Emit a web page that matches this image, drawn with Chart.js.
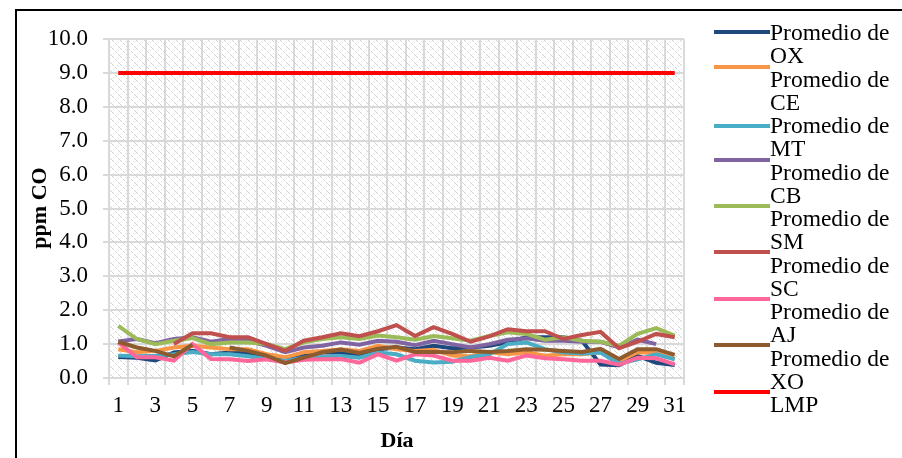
<!DOCTYPE html>
<html>
<head>
<meta charset="utf-8">
<script src="https://cdn.jsdelivr.net/npm/chart.js@4"></script>
<style>
  html, body { margin: 0; padding: 0; background: #fff; }
  #wrap { position: relative; width: 902px; height: 458px; }
</style>
</head>
<body>
<div id="wrap"><canvas id="coChart" width="902" height="458"></canvas></div>
<script>
// Days of the month
const days = ['1','2','3','4','5','6','7','8','9','10','11','12','13','14','15','16',
              '17','18','19','20','21','22','23','24','25','26','27','28','29','30','31'];

// Daily CO averages (ppm) per station
const promOX = [0.62,0.60,0.52,0.75,0.80,0.70,0.75,0.72,0.60,0.50,0.70,0.75,0.75,0.65,0.85,0.90,
                0.85,0.95,0.88,0.90,0.95,1.05,1.20,1.20,1.20,1.10,0.40,0.38,0.65,0.45,0.38];
const promCE = [0.85,0.76,0.80,0.90,0.95,0.90,0.85,0.85,0.70,0.61,0.76,0.80,0.85,0.80,0.95,0.85,
                0.80,0.83,0.66,0.64,0.76,0.70,0.76,0.66,0.70,0.70,0.76,0.51,0.76,0.74,0.56];
const promMT = [0.66,0.64,0.66,0.70,0.77,0.70,0.70,0.64,0.56,0.50,0.60,0.62,0.65,0.60,0.75,0.70,
                0.51,0.46,0.48,0.62,0.70,1.00,1.05,0.85,0.75,0.72,0.75,0.42,0.55,0.70,0.55];
const promCB = [1.08,1.15,1.03,1.15,1.20,1.07,1.15,1.10,0.95,0.76,0.90,0.95,1.05,0.98,1.10,1.07,
                0.97,1.10,1.00,0.90,1.00,1.13,1.17,1.10,1.10,1.07,1.07,0.90,1.13,1.00,null];
const promSM = [1.54,1.15,1.00,1.10,1.18,1.00,1.05,1.05,1.00,0.85,1.05,1.15,1.20,1.15,1.25,1.20,
                1.13,1.24,1.17,1.10,1.24,1.35,1.30,1.13,1.20,1.10,1.07,0.95,1.30,1.47,1.25];
const promSC = [null,null,null,1.00,1.32,1.32,1.20,1.20,1.00,0.80,1.10,1.20,1.32,1.23,1.38,1.56,
                1.24,1.50,1.30,1.07,1.23,1.44,1.38,1.38,1.15,1.27,1.36,0.88,1.07,1.30,1.20];
const promAJ = [1.05,0.61,0.61,0.51,1.00,0.56,0.55,0.50,0.55,0.46,0.54,0.55,0.56,0.45,0.70,0.51,
                0.70,0.66,0.51,0.51,0.60,0.51,0.66,0.58,0.55,0.51,0.51,0.39,0.60,0.58,0.40];
const promXO = [1.07,0.90,0.80,0.64,0.98,null,0.90,0.80,0.66,0.44,0.60,0.76,0.84,0.74,0.86,0.92,
                0.77,0.77,0.76,0.80,0.77,0.80,0.85,0.83,0.80,0.77,0.86,0.56,0.85,0.85,0.68];
// Limite maximo permisible
const lmp = [9,9,9,9,9,9,9,9,9,9,9,9,9,9,9,9,9,9,9,9,9,9,9,9,9,9,9,9,9,9,9];

const seriesNames = ['Promedio de OX','Promedio de CE','Promedio de MT','Promedio de CB',
                     'Promedio de SM','Promedio de SC','Promedio de AJ','Promedio de XO','LMP'];
const seriesData = [promOX, promCE, promMT, promCB, promSM, promSC, promAJ, promXO, lmp];
const seriesColors = ['#1F497D','#F79646','#4BACC6','#8064A2','#9BBB59','#C0504D','#FF6699','#8E5B2E','#FF0000'];

const serif = "'Liberation Serif', 'Times New Roman', serif";

// hatched background like the Excel pattern fill
function makePattern(ctx) {
    const tile = document.createElement('canvas');
    tile.width = 8; tile.height = 8;
    const t = tile.getContext('2d');
    t.fillStyle = '#ffffff';
    t.fillRect(0, 0, 8, 8);
    t.fillStyle = '#d2d2d2';
    for (let i = 0; i < 8; i++) {
        if (i % 3 !== 2) t.fillRect(i, i, 1, 1);
    }
    t.fillStyle = '#e2e2e2';
    t.fillRect(5, 1, 1, 1);
    t.fillRect(1, 5, 1, 1);
    t.fillRect(6, 2, 1, 1);
    return ctx.createPattern(tile, 'repeat');
}

const chartDecor = {
    id: 'chartDecor',
    beforeDraw(chart) {
        const { ctx, chartArea } = chart;
        ctx.save();
        ctx.fillStyle = makePattern(ctx);
        ctx.fillRect(chartArea.left, chartArea.top, chartArea.right - chartArea.left, chartArea.bottom - chartArea.top);
        ctx.restore();
    },
    afterDraw(chart) {
        const ctx = chart.ctx;
        ctx.save();
        // outer frame lines
        ctx.strokeStyle = '#000';
        ctx.lineWidth = 2;
        ctx.beginPath();
        ctx.moveTo(16, 458);
        ctx.lineTo(16, 10);
        ctx.lineTo(902, 10);
        ctx.stroke();

        // axis titles
        ctx.fillStyle = '#000';
        ctx.font = 'bold 22px ' + serif;
        ctx.textAlign = 'center';
        ctx.textBaseline = 'middle';
        ctx.fillText('Día', 397, 441);
        ctx.translate(40, 208);
        ctx.rotate(-Math.PI / 2);
        ctx.fillText('ppm CO', 0, 0);
        ctx.restore();

        // legend (wrapped text, markers a bit off like the original)
        ctx.save();
        const markerY = [32, 67, 126, 160, 206, 252, 299, 345, 392];
        ctx.lineWidth = 4;
        seriesColors.forEach((c, i) => {
            ctx.strokeStyle = c;
            ctx.beginPath();
            ctx.moveTo(714, markerY[i]);
            ctx.lineTo(770, markerY[i]);
            ctx.stroke();
        });
        const lines = [];
        seriesNames.forEach(n => {
            if (n.startsWith('Promedio de ')) {
                lines.push('Promedio de');
                lines.push(n.slice(12));
            } else {
                lines.push(n);
            }
        });
        ctx.fillStyle = '#000';
        ctx.font = '23.5px ' + serif;
        ctx.textAlign = 'left';
        ctx.textBaseline = 'alphabetic';
        lines.forEach((l, k) => {
            ctx.fillText(l, 770, 40 + 23.25 * k);
        });
        ctx.restore();
    }
};

new Chart(document.getElementById('coChart').getContext('2d'), {
    type: 'line',
    data: {
        labels: days,
        datasets: seriesData.map((d, i) => ({
            label: seriesNames[i],
            data: d,
            borderColor: seriesColors[i],
            backgroundColor: seriesColors[i],
            borderWidth: 4,
            pointRadius: 0,
            tension: 0,
            spanGaps: false,
            order: 20 - i
        }))
    },
    options: {
        responsive: false,
        animation: false,
        layout: { padding: { left: 0, top: 39, right: 218, bottom: 0 } },
        plugins: {
            legend: { display: false },
            tooltip: { enabled: false }
        },
        scales: {
            x: {
                offset: true,
                grid: { offset: true, color: '#d9d9d9', lineWidth: 2, tickLength: 7 },
                border: { color: '#d9d9d9', width: 2 },
                ticks: {
                    autoSkip: false,
                    maxRotation: 0,
                    padding: 7,
                    color: '#000',
                    font: { family: serif, size: 23 },
                    callback: function (val, i) {
                        return i % 2 === 0 ? this.getLabelForValue(val) : '';
                    }
                },
                afterFit: s => { s.height = 80; }
            },
            y: {
                min: 0,
                max: 10,
                grid: { color: '#d9d9d9', lineWidth: 2, tickLength: 6 },
                border: { color: '#d9d9d9', width: 2 },
                ticks: {
                    stepSize: 1,
                    padding: 15,
                    color: '#000',
                    font: { family: serif, size: 23 },
                    callback: v => v.toFixed(1)
                },
                afterFit: s => { s.width = 109; }
            }
        }
    },
    plugins: [chartDecor]
});
</script>
</body>
</html>
